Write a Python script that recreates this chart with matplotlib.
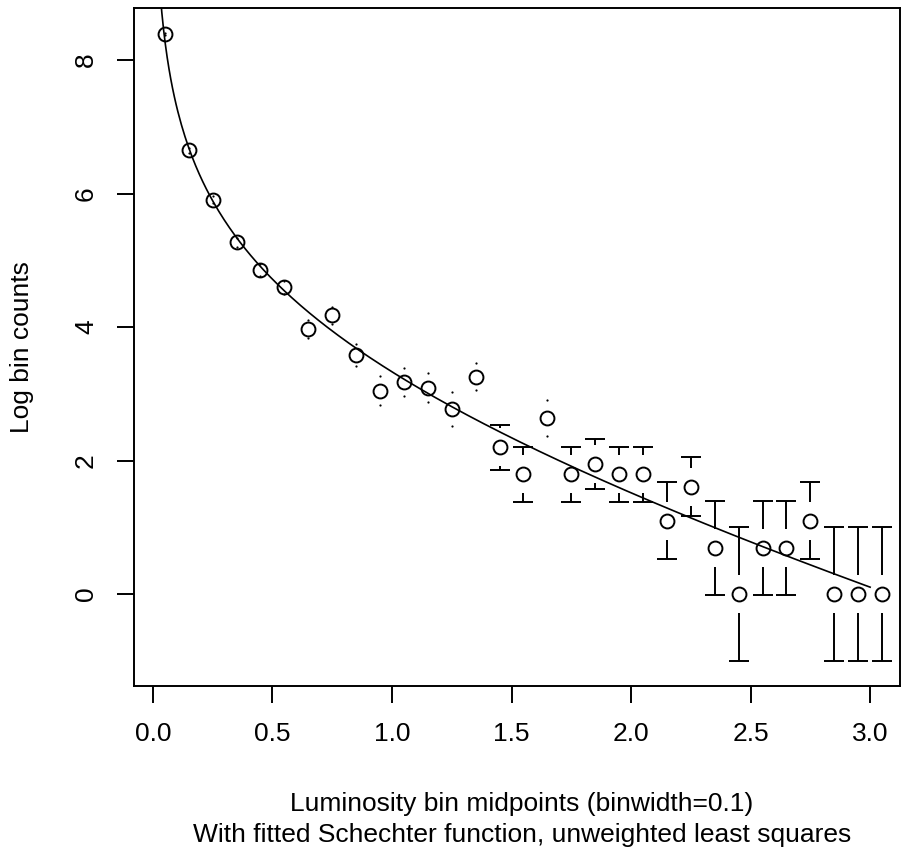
import numpy as np
import matplotlib
matplotlib.use('Agg')
import matplotlib.pyplot as plt

plt.rcParams['font.family'] = ['Liberation Sans', 'DejaVu Sans']

# Luminosity bin midpoints and counts in each bin
bin_mid = [0.05, 0.15, 0.25, 0.35, 0.45, 0.55, 0.65, 0.75, 0.85, 0.95,
           1.05, 1.15, 1.25, 1.35, 1.45, 1.55, 1.65, 1.75, 1.85, 1.95,
           2.05, 2.15, 2.25, 2.35, 2.45, 2.55, 2.65, 2.75, 2.85, 2.95, 3.05]
bin_counts = [4396, 773, 367, 194, 129, 99, 53, 65, 36, 21,
              24, 22, 16, 26, 9, 6, 14, 6, 7, 6,
              6, 3, 5, 2, 1, 2, 2, 3, 1, 1, 1]
xticks = [0.0, 0.5, 1.0, 1.5, 2.0, 2.5, 3.0]
yticks = [0, 2, 4, 6, 8]

x = np.array(bin_mid)
n = np.array(bin_counts, dtype=float)
y = np.log(n)
err = 1 / np.sqrt(n)
lo = y - err
hi = y + err

# fit Schechter function: log N = c + a*log(x) - x/L
A = np.column_stack([np.ones_like(x), np.log(x), -x])
coef, *_ = np.linalg.lstsq(A, y, rcond=None)
xc = np.linspace(0.03, 3.0, 400)
yc = coef[0] + coef[1] * np.log(xc) - coef[2] * xc

W, H = 902, 850
fig = plt.figure(figsize=(W / 100, H / 100), dpi=100)
ax = fig.add_axes([134 / W, (H - 686) / H, (900 - 134) / W, (686 - 8) / H])

lw = 1.4
gap = 0.285  # gap round each point (data units)

ax.plot(xc, yc, color='black', lw=1.2)

for xi, yi, l, h in zip(x, y, lo, hi):
    # upper bar
    if yi + gap < h:
        ax.plot([xi, xi], [yi + gap, h], color='black', lw=lw, solid_capstyle='butt')
        ax.plot([xi], [h], marker='_', ms=14.4, mew=lw, color='black')
    else:
        ax.plot([xi], [h], marker='o', ms=1.6, mew=0, color='black')
    # lower bar
    if yi - gap > l:
        ax.plot([xi, xi], [l, yi - gap], color='black', lw=lw, solid_capstyle='butt')
        ax.plot([xi], [l], marker='_', ms=14.4, mew=lw, color='black')
    else:
        ax.plot([xi], [l], marker='o', ms=1.6, mew=0, color='black')

ax.plot(x, y, 'o', ms=10, mfc='none', mec='black', mew=lw)

ax.set_xlim(-0.079, 3.125)
ax.set_ylim(-1.378, 8.78)
ax.set_xticks(xticks)
ax.set_xticklabels(['%.1f' % t for t in xticks])
ax.set_yticks(yticks)
ax.set_yticklabels([str(t) for t in yticks], rotation=90, va='center')
ax.tick_params(direction='out', length=12, width=lw, labelsize=19, pad=14)
for s in ax.spines.values():
    s.set_linewidth(lw)

fig.text(22 / W, 1 - 347 / H, 'Log bin counts', rotation=90, ha='center', va='center', fontsize=19)
fig.text(522 / W, 1 - 811 / H, 'Luminosity bin midpoints (binwidth=0.1)', ha='center', va='baseline', fontsize=19)
fig.text(522 / W, 1 - 842 / H, 'With fitted Schechter function, unweighted least squares',
         ha='center', va='baseline', fontsize=19)

fig.savefig('out.png', dpi=100)
